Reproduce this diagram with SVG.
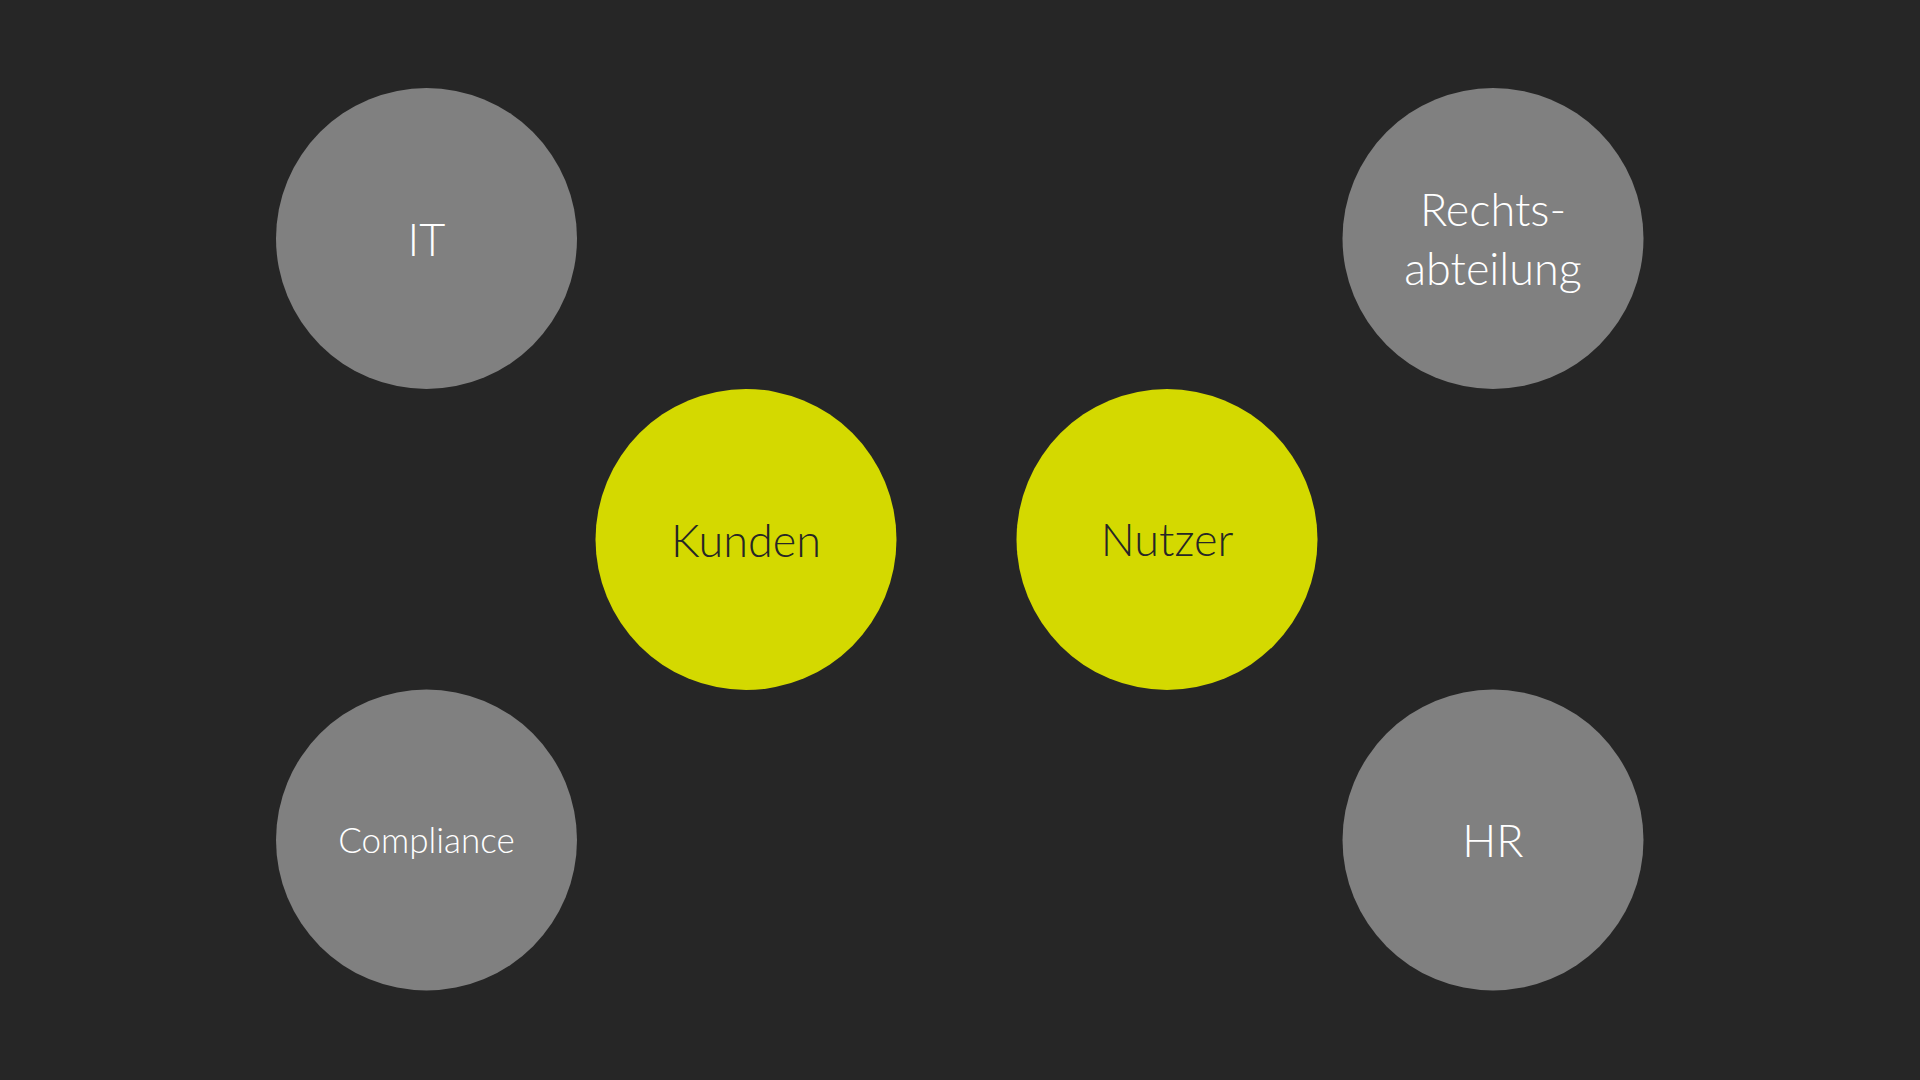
<svg xmlns="http://www.w3.org/2000/svg" width="1920" height="1080" viewBox="0 0 1920 1080">
<style>
.bg{fill:#262626}
.g{fill:#808080}
.y{fill:#d4d900}
text{font-family:"Lato","Open Sans","Noto Sans",sans-serif;font-weight:300;text-anchor:middle}
.tw{fill:#ffffff;font-size:45px}
.td{fill:#262626;font-size:45px}
.ts{fill:#ffffff;font-size:35px}
</style>
<rect class="bg" x="0" y="0" width="1920" height="1080"/>
<g id="connectors"></g>
<g id="node-it"><circle class="g" cx="426.5" cy="238.5" r="150.5"/><text class="tw" x="426.5" y="256">IT</text></g>
<g id="node-rechtsabteilung"><circle class="g" cx="1493" cy="238.5" r="150.5"/><text class="tw" x="1493" y="226">Rechts-</text><text class="tw" x="1493" y="285">abteilung</text></g>
<g id="node-kunden"><circle class="y" cx="746" cy="539.5" r="150.5"/><text class="td" x="746" y="557">Kunden</text></g>
<g id="node-nutzer"><circle class="y" cx="1167" cy="539.5" r="150.5"/><text class="td" x="1167" y="556">Nutzer</text></g>
<g id="node-compliance"><circle class="g" cx="426.5" cy="840" r="150.5"/><text class="ts" x="426.5" y="853">Compliance</text></g>
<g id="node-hr"><circle class="g" cx="1493" cy="840" r="150.5"/><text class="tw" x="1493" y="857">HR</text></g>
</svg>
